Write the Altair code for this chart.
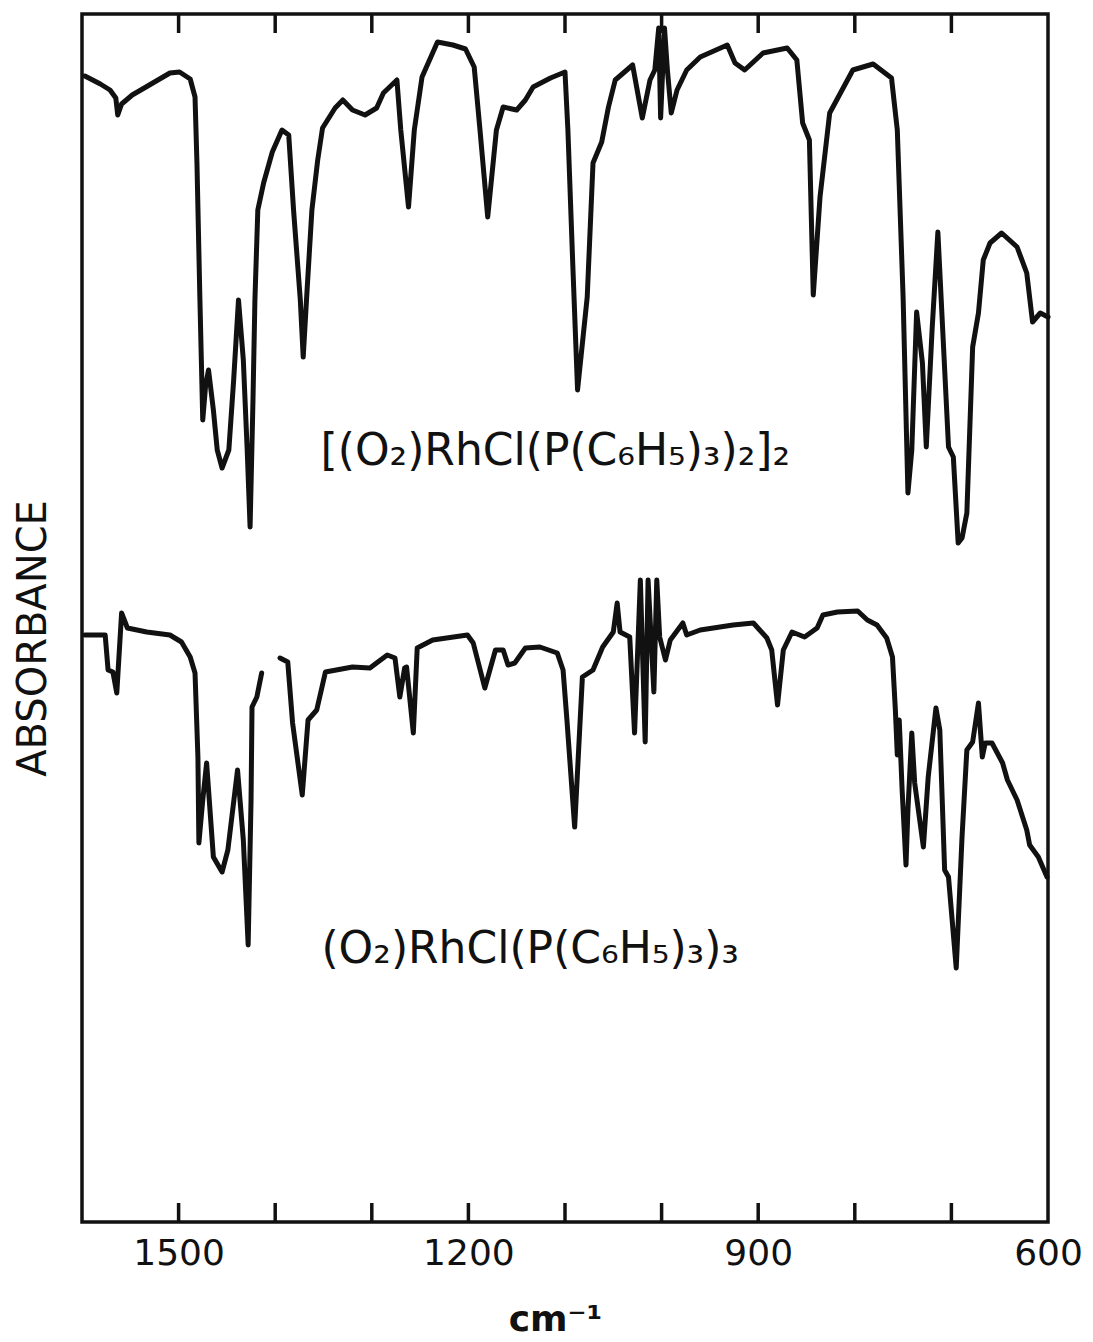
import altair as alt
import pandas as pd

# ---- traced spectrum data (wavenumber cm^-1, arbitrary absorbance units) ----
top_wn = [1597, 1581, 1571, 1565, 1563, 1559, 1548, 1532, 1509, 1499, 1488, 1483, 1481, 1478,
          1475, 1472, 1469, 1464, 1460, 1455, 1448, 1443, 1438, 1433, 1429, 1426, 1423, 1421,
          1418, 1412, 1403, 1393, 1386, 1381, 1374, 1371, 1367, 1362, 1356, 1351, 1338, 1330,
          1320, 1307, 1295, 1288, 1274, 1270, 1262, 1256, 1248, 1232, 1216, 1203, 1194, 1188,
          1180, 1171, 1164, 1150, 1141, 1133, 1115, 1100, 1097, 1092, 1087, 1077, 1071, 1062,
          1055, 1048, 1030, 1020, 1012, 1007, 1003, 1001, 997, 994, 990, 984, 974, 960, 932,
          924, 914, 895, 870, 860, 854, 847, 843, 836, 826, 802, 781, 762, 756, 750, 745, 741,
          736, 730, 726, 720, 714, 709, 703, 698, 693, 689, 684, 678, 672, 667, 660, 648, 632,
          622, 616, 608, 600]
top_val = [114.6, 113.8, 113.2, 112.4, 110.7, 111.8, 112.7, 113.6, 114.9, 115.0, 114.3, 112.5, 105.9, 92.5,
           80.2, 83.7, 85.2, 81.2, 77.2, 75.4, 77.2, 84.2, 92.2, 86.2, 77.2, 69.5, 82.2, 92.2,
           101.2, 103.9, 107.0, 109.2, 108.7, 101.2, 92.2, 86.5, 93.2, 101.2, 106.2, 109.4, 111.4, 112.2,
           111.2, 110.7, 111.4, 112.9, 114.2, 109.2, 101.5, 109.2, 114.5, 118.0, 117.7, 117.3, 115.5, 109.2,
           100.5, 109.2, 111.5, 111.2, 112.2, 113.5, 114.4, 115.0, 109.2, 95.9, 83.2, 92.5, 105.9, 108.0,
           111.5, 114.2, 115.7, 110.4, 114.2, 115.2, 119.4, 110.4, 119.4, 115.2, 110.9, 113.2, 115.2, 116.5, 117.7,
           115.9, 115.2, 116.9, 117.4, 116.2, 109.9, 108.2, 92.7, 102.5, 110.9, 115.2, 115.8, 114.4, 109.2, 92.5, 72.9, 77.2,
           91.0, 85.9, 77.5, 89.2, 99.0, 89.2, 77.5, 76.5, 67.9, 68.4, 70.9, 87.5, 90.9, 96.2, 97.9, 98.9, 97.5,
           94.9, 90.0, 90.9, 90.5]

# lower trace, first pen stroke (up to the small gap near 1400 cm-1)
bot1_wn = [1597, 1576, 1573, 1568, 1564, 1559, 1553, 1533, 1509, 1497, 1488, 1483, 1480, 1479,
           1475, 1471, 1464, 1455, 1449, 1439, 1433, 1428, 1425, 1424, 1419, 1414]
bot1_val = [58.7, 58.7, 55.2, 55.0, 52.9, 60.9, 59.4, 59.0, 58.7, 58.0, 56.5, 54.9, 46.5, 37.9,
            42.2, 45.9, 36.5, 35.0, 37.2, 45.2, 38.2, 27.7, 42.2, 51.5, 52.5, 54.9]
# lower trace, second pen stroke
bot2_wn = [1395, 1387, 1382, 1372, 1366, 1357, 1348, 1320, 1302, 1284, 1276, 1271, 1266, 1264,
           1257, 1253, 1237, 1201, 1195, 1183, 1172, 1164, 1159, 1152, 1141, 1126, 1108, 1102,
           1098, 1090, 1082, 1071, 1061, 1050, 1046, 1043, 1033, 1028, 1022, 1017, 1014, 1008,
           1005, 1002, 996, 991, 978, 974, 960, 926, 905, 891, 886, 880, 874, 865, 852, 839, 833,
           818, 797, 787, 777, 767, 761, 758, 756, 754, 751, 747, 745, 741, 738, 729, 724, 716,
           712, 707, 703, 695, 689, 684, 678, 672, 668, 665, 658, 647, 642, 632, 622, 619, 610, 601]
bot2_val = [56.4, 56.0, 49.9, 42.7, 50.2, 51.2, 55.0, 55.5, 55.4, 56.7, 56.4, 52.5, 55.4, 55.5,
            48.9, 57.4, 58.2, 58.7, 57.9, 53.4, 57.2, 57.2, 55.7, 55.9, 57.4, 57.5, 56.9, 55.2,
            50.2, 39.5, 54.5, 55.2, 57.5, 59.0, 61.9, 59.0, 58.5, 48.9, 64.2, 48.0, 64.2, 53.0,
            64.2, 58.5, 56.2, 58.2, 59.9, 58.7, 59.2, 59.7, 59.9, 58.4, 57.2, 51.7, 57.2, 59.0, 58.5, 59.4, 60.7,
            61.0, 61.1, 60.2, 59.7, 58.4, 56.5, 51.2, 46.7, 50.2, 43.2, 35.7, 41.2, 48.9, 43.9, 37.5, 44.5, 51.4,
            49.2, 35.2, 34.5, 25.4, 38.5, 47.2, 48.0, 51.9, 46.5, 47.9, 47.9, 45.9, 44.2, 42.2, 39.2, 37.7, 36.5, 34.5]

tick_wn = [1500, 1400, 1300, 1200, 1100, 1000, 900, 800, 700]
label_wn = [1500, 1200, 900, 600]

compound_text = ["[(O₂)RhCl(P(C₆H₅)₃)₂]₂", "(O₂)RhCl(P(C₆H₅)₃)₃"]
compound_wn = [1110, 1136]
compound_val = [75.7, 25.9]

Y_MAX = 120.8
TICK_LEN = 1.9

# ---- build tables ----
rows = []
for seg, (wns, vals) in {"top": (top_wn, top_val), "bot1": (bot1_wn, bot1_val),
                         "bot2": (bot2_wn, bot2_val)}.items():
    for i, (w, v) in enumerate(zip(wns, vals)):
        rows.append({"seg": seg, "idx": i, "wn": w, "val": v})
spec = pd.DataFrame(rows)

ticks = pd.DataFrame(
    [{"wn": w, "y0": 0.0, "y1": TICK_LEN} for w in tick_wn]
    + [{"wn": w, "y0": Y_MAX, "y1": Y_MAX - TICK_LEN} for w in tick_wn]
)

labels = pd.DataFrame({"txt": compound_text, "wn": compound_wn, "val": compound_val})

FONT = "DejaVu Sans"

xscale = alt.Scale(domain=[600, 1600], reverse=True, nice=False, zero=False)
yscale = alt.Scale(domain=[0, Y_MAX], nice=False, zero=False)

xaxis = alt.Axis(values=label_wn, format="d", ticks=False, domain=False, grid=False,
                 labelFontSize=36, labelFont=FONT, labelColor="#111", labelPadding=14,
                 labelFlush=False, labelOverlap=False,
                 title="cm⁻¹", titleFont=FONT, titleFontSize=36, titleFontWeight="bold",
                 titleColor="#111", titleX=473, titleY=108, titleBaseline="alphabetic",
                 titleAlign="center")
yaxis = alt.Axis(labels=False, ticks=False, domain=False, grid=False,
                 title="ABSORBANCE", titleFont=FONT, titleFontSize=40,
                 titleFontWeight="normal", titleColor="#111", titleAngle=270,
                 titleX=-37, titleY=624, titleAlign="center", titleBaseline="alphabetic")

lines = alt.Chart(spec).mark_line(color="#111", strokeWidth=5, strokeJoin="round",
                                  strokeCap="round").encode(
    x=alt.X("wn:Q", scale=xscale, axis=xaxis),
    y=alt.Y("val:Q", scale=yscale, axis=yaxis),
    detail="seg:N",
    order="idx:Q",
)

tick_rules = alt.Chart(ticks).mark_rule(color="#111", strokeWidth=3.5).encode(
    x=alt.X("wn:Q", scale=xscale),
    y=alt.Y("y0:Q", scale=yscale),
    y2="y1:Q",
)

texts = alt.Chart(labels).mark_text(font=FONT, fontSize=44, color="#111", align="center",
                                    baseline="alphabetic").encode(
    x=alt.X("wn:Q", scale=xscale),
    y=alt.Y("val:Q", scale=yscale),
    text="txt:N",
)

chart = alt.layer(lines, tick_rules, texts).properties(
    width=966, height=1208,
    autosize=alt.AutoSizeParams(type="none"),
    padding={"left": 82, "top": 14, "right": 45, "bottom": 120},
    background="white",
).configure_view(stroke="#111", strokeWidth=3.5)

chart.save("out.html", embed_options={"renderer": "svg", "actions": False})
